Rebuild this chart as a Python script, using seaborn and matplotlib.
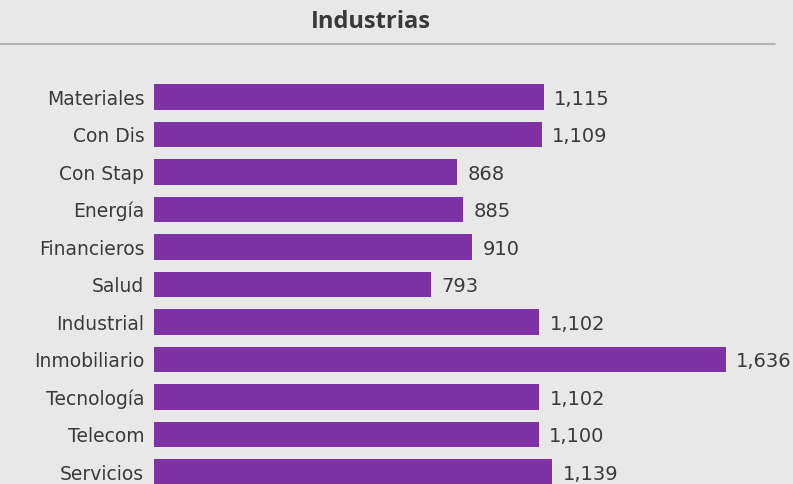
import matplotlib
matplotlib.use("Agg")
import matplotlib.pyplot as plt
import seaborn as sns
import pandas as pd

sectors = ["Materiales", "Con Dis", "Con Stap", "Energía", "Financieros", "Salud",
           "Industrial", "Inmobiliario", "Tecnología", "Telecom", "Servicios"]
counts = [1115, 1109, 868, 885, 910, 793, 1102, 1636, 1102, 1100, 1139]

df = pd.DataFrame({"sector": sectors, "count": counts})

bg = "#e8e8e8"
bar_color = "#7f32a5"
text_color = "#3a3a3a"

sns.set_theme(style="white")
plt.rcParams["font.family"] = ["DejaVu Sans"]

W, H = 793, 484
fig = plt.figure(figsize=(W / 100, H / 100), dpi=100, facecolor=bg)

# plot area: bars start at x=154px and run to the right edge of the figure
ax = fig.add_axes([154 / W, 0, 1 - 154 / W, (H - 60) / H])
ax.set_facecolor(bg)

sns.barplot(data=df, x="count", y="sector", orient="h", color=bar_color,
            saturation=1, width=0.69, linewidth=0, ax=ax)

ax.set_xlim(0, 1828)
ax.set_ylim(10.32, -0.987)
ax.set_xlabel("")
ax.set_ylabel("")
ax.set_xticks([])
for s in ax.spines.values():
    s.set_visible(False)
ax.tick_params(axis="y", length=0, pad=7, labelsize=13.5, labelcolor=text_color)

for i, v in enumerate(counts):
    ax.annotate(f"{v:,}", xy=(v, i), xytext=(7.5, -1.5), textcoords="offset points",
                ha="left", va="center", fontsize=14, color=text_color,
                annotation_clip=False)

fig.text(371 / W, 1 - 22 / H, "Industrias", ha="center", va="center",
         fontsize=17, fontweight="bold", color=text_color,
         family=["Open Sans", "DejaVu Sans"])
fig.add_artist(plt.Line2D([0, 775 / W], [1 - 44 / H, 1 - 44 / H],
                          transform=fig.transFigure, color="#a8a8a8", lw=1.2))

fig.savefig("out.png", dpi=100, facecolor=bg)
